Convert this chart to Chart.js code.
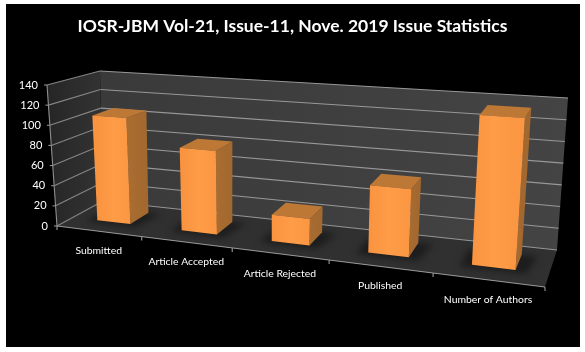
<!DOCTYPE html>
<html>
<head>
<meta charset="utf-8">
<style>
  html, body { margin: 0; padding: 0; background: #fff; }
  canvas { display: block; }
</style>
<script src="https://cdn.jsdelivr.net/npm/chart.js@4/dist/chart.umd.js"></script>
</head>
<body>
<canvas id="issueChart" width="585" height="352"></canvas>
<script>
// data
const categories = ["Submitted", "Article Accepted", "Article Rejected", "Published", "Number of Authors"];
const issueValues = [106, 81, 25, 62, 134];
const yTickValues = [0, 20, 40, 60, 80, 100, 120, 140];
const titleText = "IOSR-JBM Vol-21, Issue-11, Nove. 2019 Issue Statistics";

// corners of the 3D box on the page
const box = {
  flb: [57, 226], frb: [545, 287], blb: [103, 201], brb: [557, 250],
  flt: [47, 85], frt: [556, 122], blt: [100, 71], brt: [568, 98]
};
const perspective = 1.19;   // categories get wider to the right
const barDepth = [0.35, 0.78];

function mix(a, b, t) {
  return [a[0] + (b[0] - a[0]) * t, a[1] + (b[1] - a[1]) * t];
}

// u: along the categories, v: up the value axis, w: front(0) to back(1)
function project(u, v, w) {
  const f = u / (u + perspective * (1 - u));
  const bottom = mix(mix(box.flb, box.frb, f), mix(box.blb, box.brb, f), w);
  const top = mix(mix(box.flt, box.frt, f), mix(box.blt, box.brt, f), w);
  return mix(bottom, top, v);
}

function poly(ctx, points, fill) {
  ctx.beginPath();
  points.forEach((p, i) => i ? ctx.lineTo(p[0], p[1]) : ctx.moveTo(p[0], p[1]));
  ctx.closePath();
  if (fill) {
    ctx.fillStyle = fill;
    ctx.fill();
  }
}

function line(ctx, a, b, color) {
  ctx.strokeStyle = color;
  ctx.lineWidth = 1.1;
  ctx.beginPath();
  ctx.moveTo(a[0], a[1]);
  ctx.lineTo(b[0], b[1]);
  ctx.stroke();
}

const box3d = {
  id: "box3d",
  // black panel, walls, floor, grid and axis labels
  beforeDraw(chart) {
    const ctx = chart.ctx;
    const yScale = chart.scales.y;
    const area = chart.chartArea;
    ctx.save();
    ctx.fillStyle = "#000";
    ctx.fillRect(6, 4, 574, 343);

    const wallGrad = ctx.createLinearGradient(100, 0, 568, 0);
    wallGrad.addColorStop(0, "#3a3a3a");
    wallGrad.addColorStop(1, "#444444");
    poly(ctx, [box.blb, box.brb, box.brt, box.blt], wallGrad);
    const sideGrad = ctx.createLinearGradient(47, 0, 103, 0);
    sideGrad.addColorStop(0, "#262626");
    sideGrad.addColorStop(1, "#333333");
    poly(ctx, [box.flb, box.blb, box.blt, box.flt], sideGrad);
    poly(ctx, [box.flb, box.frb, box.brb, box.blb], "#303030");

    yTickValues.forEach((t) => {
      const v = (area.bottom - yScale.getPixelForValue(t)) / area.height;
      line(ctx, project(0, v, 0), project(0, v, 1), "#858585");
      line(ctx, project(0, v, 1), project(1, v, 1), "#989898");
      const p = project(0, v, 0);
      line(ctx, p, [p[0] - 3, p[1]], "#8f8f8f");
      ctx.fillStyle = "#fff";
      ctx.font = "11px Lato";
      ctx.textAlign = "right";
      ctx.textBaseline = "middle";
      ctx.fillText(String(t), p[0] - 9, p[1]);
    });
    line(ctx, box.flb, box.flt, "#8f8f8f");
    line(ctx, box.flb, box.frb, "#9a9a9a");

    for (let k = 0; k <= categories.length; k++) {
      const p = project(k / categories.length, 0, 0);
      line(ctx, p, [p[0], p[1] + 4], "#9a9a9a");
    }
    const xScale = chart.scales.x;
    categories.forEach((c, i) => {
      const u = (xScale.getPixelForValue(i) - area.left) / area.width;
      const p = project(u, 0, 0);
      ctx.fillStyle = "#fff";
      ctx.font = "10.4px Lato";
      ctx.textAlign = "center";
      ctx.textBaseline = "middle";
      ctx.fillText(c, p[0], p[1] + 19.5);
    });
    ctx.restore();
  },
  // bars come from the chart's own bar elements, drawn as boxes
  beforeDatasetDraw(chart, args) {
    const ctx = chart.ctx;
    const area = chart.chartArea;
    const bars = args.meta.data;
    const [w0, w1] = barDepth;
    ctx.save();
    bars.forEach((bar) => {
      const u0 = (bar.x - bar.width / 2 - area.left) / area.width;
      const u1 = (bar.x + bar.width / 2 - area.left) / area.width;
      const v = (area.bottom - bar.y) / area.height;

      // soft shadow on the floor
      ctx.save();
      ctx.filter = "blur(3px)";
      poly(ctx, [project(u0 - 0.02, 0, w0 - 0.08), project(u1 + 0.02, 0, w0 - 0.08),
                 project(u1 + 0.03, 0, w1), project(u0 - 0.02, 0, w1)], "#1d1d1d");
      ctx.restore();

      const side = ctx.createLinearGradient(project(u1, 0, w0)[0], 0, project(u1, 0, w1)[0], 0);
      side.addColorStop(0, "#a96c31");
      side.addColorStop(1, "#a2682f");
      poly(ctx, [project(u1, 0, w0), project(u1, 0, w1), project(u1, v, w1), project(u1, v, w0)], side);
      poly(ctx, [project(u0, v, w0), project(u1, v, w0), project(u1, v, w1), project(u0, v, w1)], "#bd7836");

      const fl = project(u0, 0, w0), fr = project(u1, 0, w0);
      const front = ctx.createLinearGradient(fl[0], 0, fr[0], 0);
      front.addColorStop(0, "#f9933f");
      front.addColorStop(0.5, "#ff9c48");
      front.addColorStop(1, "#fb9743");
      poly(ctx, [fl, fr, project(u1, v, w0), project(u0, v, w0)], front);
    });
    ctx.restore();
    return false;
  }
};

new Chart(document.getElementById("issueChart").getContext("2d"), {
  type: "bar",
  data: {
    labels: categories,
    datasets: [{
      label: "Issue Statistics",
      data: issueValues,
      backgroundColor: "#ff9c48",
      categoryPercentage: 1,
      barPercentage: 0.4
    }]
  },
  options: {
    responsive: false,
    animation: false,
    devicePixelRatio: 1,
    layout: { padding: 0 },
    plugins: {
      legend: { display: false },
      tooltip: { enabled: false },
      title: {
        display: true,
        text: titleText,
        color: "#fff",
        font: { family: "Lato", size: 17.5, weight: "bold" },
        padding: { top: 16, bottom: 10 }
      }
    },
    scales: {
      x: { display: false },
      y: { display: false, min: 0, max: 140, ticks: { stepSize: 20 } }
    }
  },
  plugins: [box3d]
});
</script>
</body>
</html>
